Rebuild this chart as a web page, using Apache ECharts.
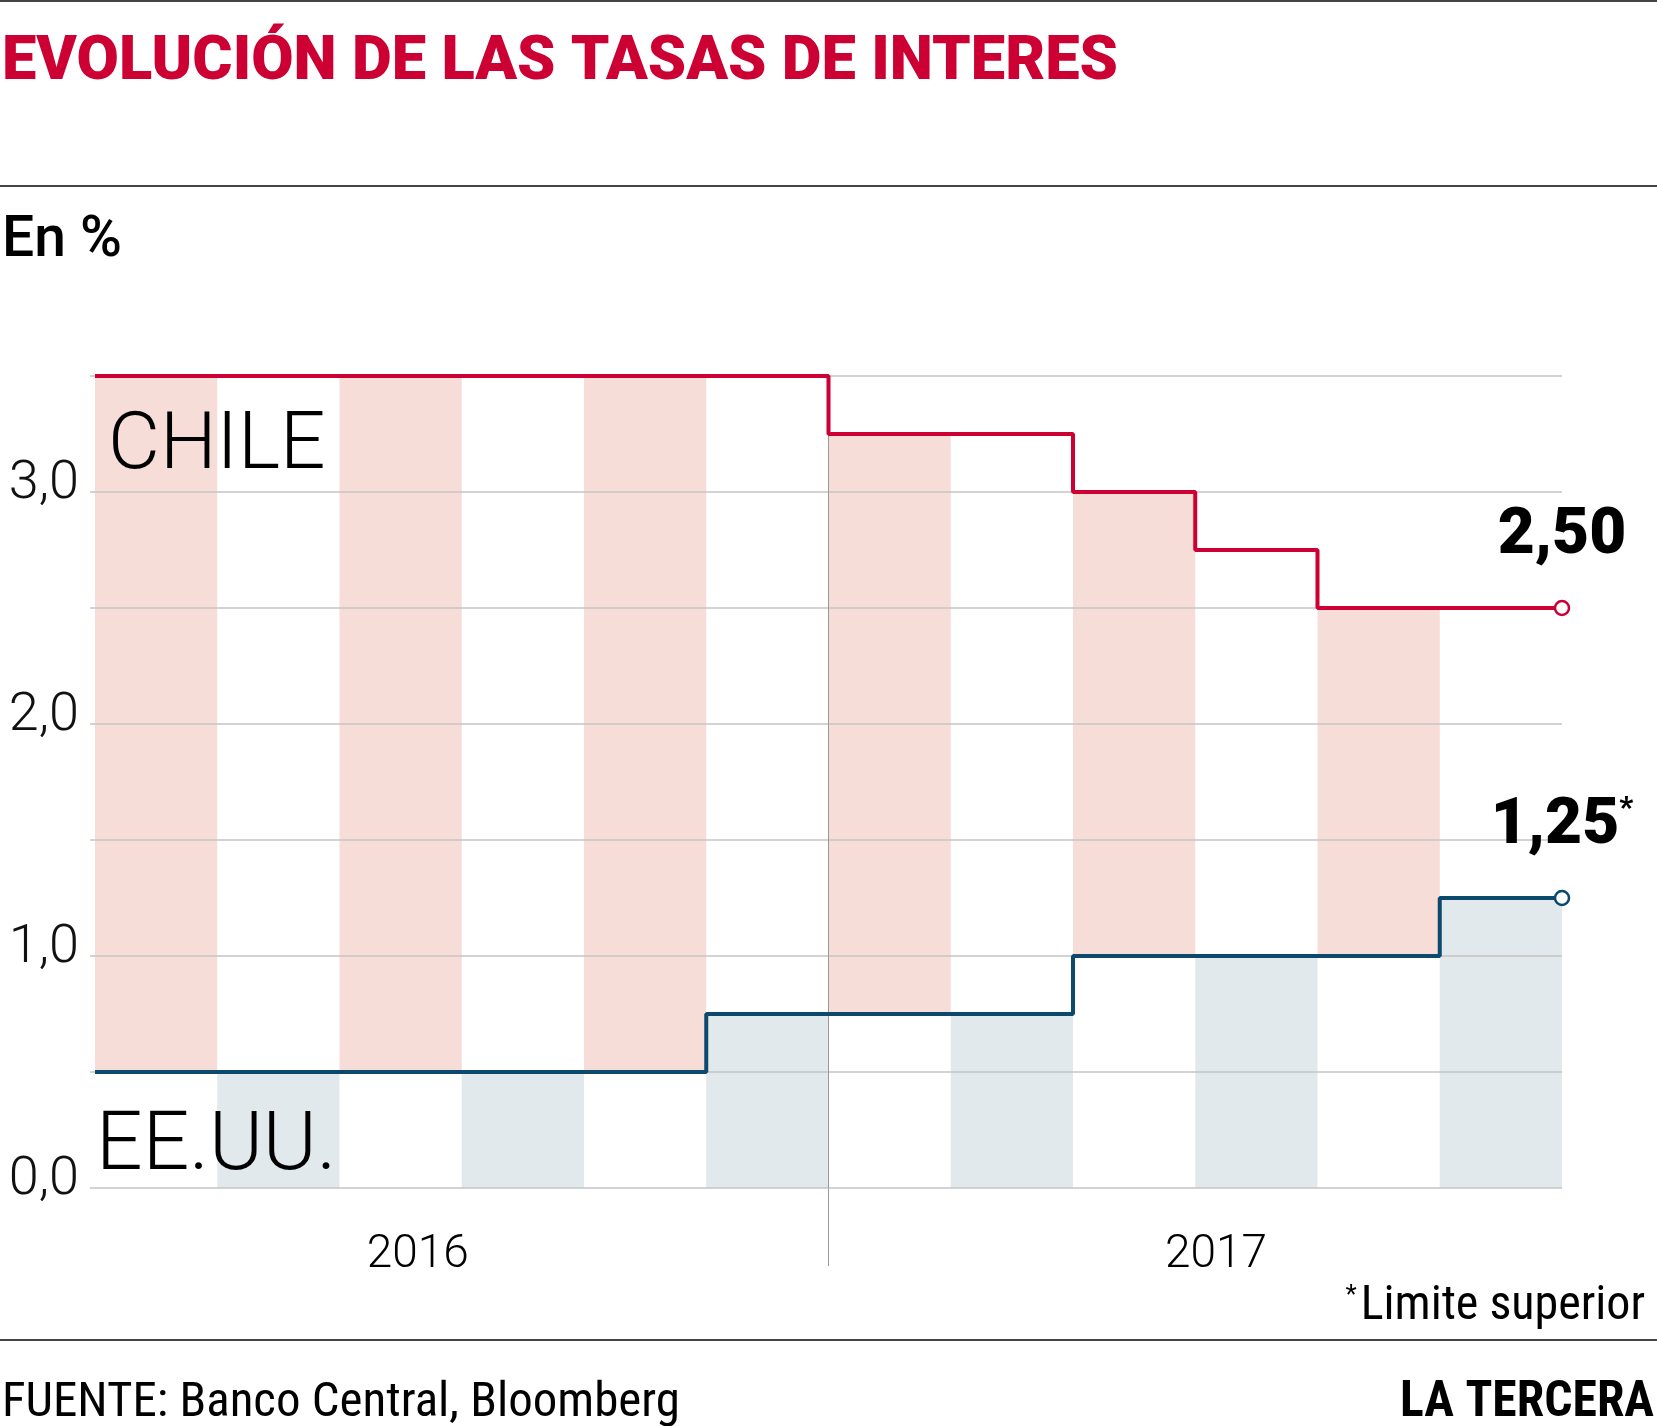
<!DOCTYPE html>
<html><head><meta charset="utf-8">
<script src="https://cdn.jsdelivr.net/npm/echarts@6/dist/echarts.min.js"></script>
<style>html,body{margin:0;padding:0;background:#fff}#c{width:1657px;height:1426px}</style>
</head><body><div id="c"></div>
<script>
// ---- data ----
const months = ['Jul 2016','Ago 2016','Sep 2016','Oct 2016','Nov 2016','Dic 2016','Ene 2017','Feb 2017','Mar 2017','Abr 2017','May 2017','Jun 2017'];
const chile = [3.5, 3.5, 3.5, 3.5, 3.5, 3.5, 3.25, 3.25, 3.0, 2.75, 2.5, 2.5];
const chileLast = 2.5;
const eeuu = [0.5, 0.5, 0.5, 0.5, 0.5, 0.75, 0.75, 0.75, 1.0, 1.0, 1.0, 1.25];
const eeuuLast = 1.25;
const yTickValues = [0, 1, 2, 3];
const yTickLabels = ['0,0', '1,0', '2,0', '3,0'];
const yearLabels = ['2016', '2017'];

// ---- fonts ----
function hasFont(f) {
  const c = document.createElement('canvas').getContext('2d');
  const t = 'abcdefghijklmnopqrstuvwxyzABCDEFGHIJKLM0123456789%';
  const res = ['monospace', 'serif'].map(fb => {
    c.font = '40px ' + fb; const a = c.measureText(t).width;
    c.font = '40px "' + f + '", ' + fb; const b = c.measureText(t).width;
    return a !== b;
  });
  return res[0] || res[1];
}
function pick(list) { for (const f of list) if (hasFont(f)) return f; return 'sans-serif'; }
const COND = pick(['Roboto Condensed', 'Liberation Sans Narrow', 'DejaVu Sans Condensed', 'Roboto']);
const SANS = pick(['Roboto', 'Lato', 'Open Sans', 'Liberation Sans']);
function textWidth(text, font) {
  const c = document.createElement('canvas').getContext('2d');
  c.font = font;
  return c.measureText(text).width;
}
function fitSize(text, weight, family, target, maxSize) {
  const w = textWidth(text, weight + ' 100px "' + family + '"') / 100;
  return Math.min(maxSize, target / w);
}

const RED = '#cc0033', BLUE = '#0b4a6c', PINK = '#f6ddd7', GREY = '#e2e9ec', GRID = '#c4c4c4';
const fmt = v => v.toFixed(2).replace('.', ',');

const pinkBase = months.map((m, i) => i % 2 === 0 ? eeuu[i] : '-');
const pinkFill = months.map((m, i) => i % 2 === 0 ? +(chile[i] - eeuu[i]).toFixed(2) : '-');
const greyFill = months.map((m, i) => i % 2 === 1 ? eeuu[i] : '-');

const lastStyle = c => ({ symbol: 'circle', symbolSize: 14, itemStyle: { color: '#fff', borderColor: c, borderWidth: 2.5 } });
const chileLine = chile.map((v, i) => ({ value: [i, v], symbol: 'none' }))
  .concat([Object.assign({ value: [months.length, chileLast] }, lastStyle(RED), {
    label: { show: true, position: 'top', distance: 31, formatter: p => fmt(p.value[1]),
      fontFamily: SANS, fontWeight: 900, fontSize: 64, color: '#000' } })]);
const eeuuLine = eeuu.map((v, i) => ({ value: [i, v], symbol: 'none' }))
  .concat([Object.assign({ value: [months.length, eeuuLast] }, lastStyle(BLUE), {
    label: { show: true, position: 'top', distance: 31, formatter: p => '{v|' + fmt(p.value[1]) + '}{s|*}',
      rich: { v: { fontFamily: SANS, fontWeight: 900, fontSize: 64, color: '#000' },
              s: { fontFamily: SANS, fontWeight: 900, fontSize: 30, color: '#000', verticalAlign: 'top', lineHeight: 20 } } } })]);

const titleText = 'EVOLUCIÓN DE LAS TASAS DE INTERES';
const titleFont = '900 62px "' + SANS + '"';
const titleScale = 1116 / textWidth(titleText, titleFont);
const srcText = 'FUENTE: Banco Central, Bloomberg';
const srcSize = fitSize(srcText, 'normal', COND, 678, 52);
const brandSize = fitSize('LA TERCERA', 'bold', COND, 254, 50);
const noteSize = fitSize('Limite superior', 'normal', COND, 289, 48);

const chart = echarts.init(document.getElementById('c'), null, { renderer: 'canvas' });
chart.setOption({
  backgroundColor: '#fff',
  animation: false,
  grid: { left: 95, right: 95, top: 376, bottom: 238, containLabel: false },
  xAxis: [
    { type: 'category', data: months, show: false, boundaryGap: true },
    { type: 'value', min: 0, max: months.length, position: 'bottom',
      axisLine: { show: false }, splitLine: { show: false },
      axisTick: { show: true, customValues: [6], length: 78, lineStyle: { color: '#999', width: 1 } },
      axisLabel: { customValues: [2.64, 9.17], formatter: v => v < 6 ? yearLabels[0] : yearLabels[1],
        margin: 44, fontFamily: SANS, fontWeight: 300, fontSize: 46, color: '#000' } }
  ],
  yAxis: { type: 'value', min: 0, max: 3.5, interval: 0.5, z: 3,
    axisLine: { show: false },
    axisTick: { show: true, length: 5, lineStyle: { color: GRID, width: 1.5 } },
    splitLine: { lineStyle: { color: GRID, width: 1.5 } },
    axisLabel: { customValues: yTickValues, formatter: v => yTickLabels[yTickValues.indexOf(v)],
      margin: 16, fontFamily: SANS, fontWeight: 300, fontSize: 54, color: '#111', verticalAlign: 'bottom', lineHeight: 15 } },
  series: [
    { type: 'bar', xAxisIndex: 0, stack: 'chile', data: pinkBase, barCategoryGap: 0, barGap: '-100%',
      itemStyle: { color: 'rgba(0,0,0,0)' }, silent: true, z: 1 },
    { type: 'bar', xAxisIndex: 0, stack: 'chile', data: pinkFill, barCategoryGap: 0, barGap: '-100%',
      itemStyle: { color: PINK }, silent: true, z: 1 },
    { type: 'bar', xAxisIndex: 0, stack: 'eeuu', data: greyFill, barCategoryGap: 0, barGap: '-100%',
      itemStyle: { color: GREY }, silent: true, z: 1 },
    { name: 'Chile', type: 'line', xAxisIndex: 1, step: 'end', data: chileLine, z: 5,
      lineStyle: { color: RED, width: 4 }, itemStyle: { color: RED },
      markLine: { silent: true, symbol: 'none', label: { show: false },
        lineStyle: { color: '#999', width: 1, type: 'solid' }, data: [{ xAxis: 6 }] } },
    { name: 'EE.UU.', type: 'line', xAxisIndex: 1, step: 'end', data: eeuuLine, z: 5,
      lineStyle: { color: BLUE, width: 4 }, itemStyle: { color: BLUE } }
  ],
  graphic: [
    { type: 'rect', shape: { x: 0, y: 0, width: 1657, height: 2 }, style: { fill: '#444' } },
    { type: 'rect', shape: { x: 0, y: 185, width: 1657, height: 2 }, style: { fill: '#444' } },
    { type: 'rect', shape: { x: 0, y: 1339, width: 1657, height: 2 }, style: { fill: '#444' } },
    { type: 'text', x: 2, y: 63, scaleX: titleScale, style: { text: titleText, fill: RED, font: titleFont,
      align: 'left', verticalAlign: 'middle', textAlign: 'left', textVerticalAlign: 'middle' } },
    { type: 'text', x: 2, y: 242, style: { text: 'En %', fill: '#000', font: '500 57px "' + SANS + '"',
      align: 'left', verticalAlign: 'middle', textAlign: 'left', textVerticalAlign: 'middle' } },
    { type: 'text', x: 108, y: 448, z: 10, style: { text: 'CHILE', fill: '#000', font: '300 80px "' + SANS + '"',
      align: 'left', verticalAlign: 'middle', textAlign: 'left', textVerticalAlign: 'middle' } },
    { type: 'text', x: 96, y: 1148, z: 10, style: { text: 'EE.UU.', fill: '#000', font: '300 82px "' + SANS + '"',
      align: 'left', verticalAlign: 'middle', textAlign: 'left', textVerticalAlign: 'middle' } },
    { type: 'text', x: 1645, y: 1307, style: { text: '{s|*}{t|Limite superior}', align: 'right', verticalAlign: 'middle',
      textAlign: 'right', textVerticalAlign: 'middle',
      rich: { s: { fontFamily: COND, fontSize: 26, fill: '#000', verticalAlign: 'top', lineHeight: 20, padding: [0, 4, 0, 0] },
              t: { fontFamily: COND, fontSize: noteSize, fill: '#000' } } } },
    { type: 'text', x: 2, y: 1404, style: { text: srcText, fill: '#000', font: srcSize + 'px "' + COND + '"',
      align: 'left', verticalAlign: 'middle', textAlign: 'left', textVerticalAlign: 'middle' } },
    { type: 'text', x: 1654, y: 1404, style: { text: 'LA TERCERA', fill: '#000', font: 'bold ' + brandSize + 'px "' + COND + '"',
      align: 'right', verticalAlign: 'middle', textAlign: 'right', textVerticalAlign: 'middle' } }
  ]
});
</script></body></html>
